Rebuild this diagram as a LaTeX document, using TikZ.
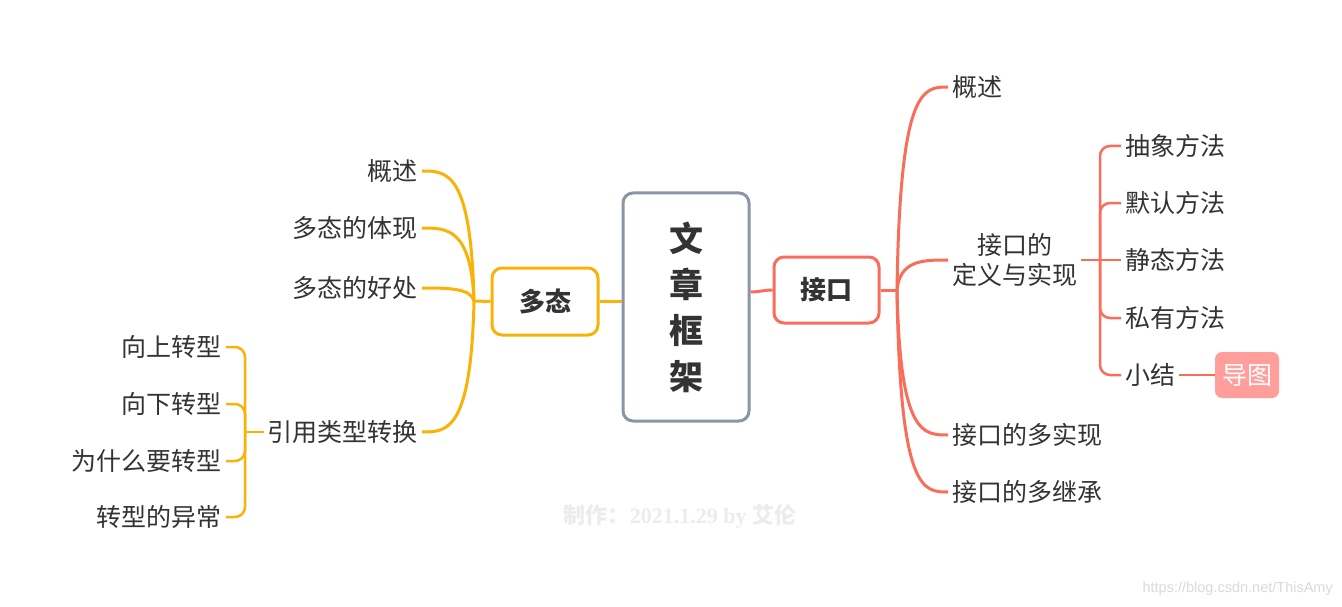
\documentclass[tikz,border=0pt]{standalone}
\usepackage{fontspec}
\setmainfont{Noto Sans CJK SC}
\newfontfamily\wmlatin{Liberation Serif}
\newfontfamily\urlfont{Liberation Sans}
\usetikzlibrary{calc}
\definecolor{rd}{HTML}{F96E5B}
\definecolor{yl}{HTML}{F9B308}
\definecolor{gb}{HTML}{8A96A8}
\definecolor{pk}{HTML}{FF9E9B}
\definecolor{tx}{HTML}{333333}
\definecolor{wm}{HTML}{ECECEC}
\definecolor{ul}{HTML}{DADADA}
\tikzset{
  lbl/.style={font=\fontsize{25}{30}\selectfont, text=tx, inner xsep=4pt, inner ysep=2pt},
  rbranch/.style={draw=rd, line width=3pt},
  ybranch/.style={draw=yl, line width=3pt},
  rsub/.style={draw=rd, line width=2.5pt, rounded corners=10pt},
  ysub/.style={draw=yl, line width=2.5pt, rounded corners=10pt},
  topicbox/.style={rounded corners=10pt, line width=3pt, fill=white, text=tx, font=\bfseries\fontsize{26}{30}\selectfont}
}
\begin{document}
\begin{tikzpicture}[x=1pt,y=-1pt]
\useasboundingbox (0,0) rectangle (1342,607);
\fill[white] (0,0) rectangle (1342,607);

% central topic
\node[draw=gb, rounded corners=10pt, line width=3pt, fill=white, minimum width=126pt, minimum height=228pt, text=tx, align=center, font=\bfseries\fontsize{34}{46}\selectfont] (center) at (686,307) {文\\章\\框\\架};

% main topics
\node[topicbox, draw=rd, minimum width=105pt, minimum height=66pt] (jiekou) at (826.5,290) {接口};
\node[topicbox, draw=yl, minimum width=106pt, minimum height=67pt] (duotai) at (545,301.5) {多态};

\draw[ybranch] (center.west |- duotai.east) -- (duotai.east);
\draw[rbranch] ([yshift=15pt]center.east) to[out=0,in=180] (jiekou.west);

% right side
\coordinate (jR) at (897,290);
\draw[rbranch] (jiekou.east) -- (jR);
\node[lbl, anchor=west] (r1) at (948,87) {概述};
\node[lbl, anchor=west, align=center] (r2) at (948,260) {接口的\\定义与实现};
\node[lbl, anchor=west] (r3) at (948,435) {接口的多实现};
\node[lbl, anchor=west] (r4) at (948,492) {接口的多继承};
\foreach \n in {r1,r2,r3,r4}{
  \draw[rbranch] (jR) .. controls ([xshift=3pt]jR |- \n.west) and ([xshift=-25pt]\n.west) .. (\n.west);
}

\coordinate (jR2) at (1100,260);
\draw[rsub] (r2.east) -- (jR2);
\node[lbl, anchor=west] (s1) at (1121,146) {抽象方法};
\node[lbl, anchor=west] (s2) at (1121,203) {默认方法};
\node[lbl, anchor=west] (s3) at (1121,260) {静态方法};
\node[lbl, anchor=west] (s4) at (1121,318) {私有方法};
\node[lbl, anchor=west] (s5) at (1121,375) {小结};
\foreach \n in {s1,s2,s4,s5}{
  \draw[rsub] (jR2) |- (\n.west);
}
\draw[rsub] (jR2) -- (s3.west);
\node[fill=pk, rounded corners=7pt, minimum width=64pt, minimum height=46pt, text=white, font=\fontsize{25}{30}\selectfont, inner sep=0pt] (dt) at (1247,375) {导图};
\draw[rsub] (s5.east) -- (dt.west);

% left side
\coordinate (jL) at (474,301);
\draw[ybranch] (duotai.west) -- (jL);
\node[lbl, anchor=east] (l1) at (422,171) {概述};
\node[lbl, anchor=east] (l2) at (422,228) {多态的体现};
\node[lbl, anchor=east] (l3) at (422,288) {多态的好处};
\node[lbl, anchor=east] (l4) at (422,432) {引用类型转换};
\foreach \n in {l1,l2,l3,l4}{
  \draw[ybranch] (jL) .. controls ([xshift=-3pt]jL |- \n.east) and ([xshift=25pt]\n.east) .. (\n.east);
}

\coordinate (jL2) at (245,432);
\draw[ysub] (l4.west) -- (jL2);
\node[lbl, anchor=east] (t1) at (226,347) {向上转型};
\node[lbl, anchor=east] (t2) at (226,404) {向下转型};
\node[lbl, anchor=east] (t3) at (226,461) {为什么要转型};
\node[lbl, anchor=east] (t4) at (226,517) {转型的异常};
\foreach \n in {t1,t2,t3,t4}{
  \draw[ysub] (jL2) |- (\n.east);
}

% watermarks
\node[text=wm, font=\bfseries\fontsize{22}{26}\selectfont, inner sep=0pt] (wmk) at (680,516) {制作：{\wmlatin\bfseries 2021.1.29 by }艾伦};
\node[text=ul, font=\urlfont\fontsize{14.5}{16}\selectfont, anchor=east, inner sep=0pt] (url) at (1333,589) {https://blog.csdn.net/ThisAmy};
\end{tikzpicture}
\end{document}
